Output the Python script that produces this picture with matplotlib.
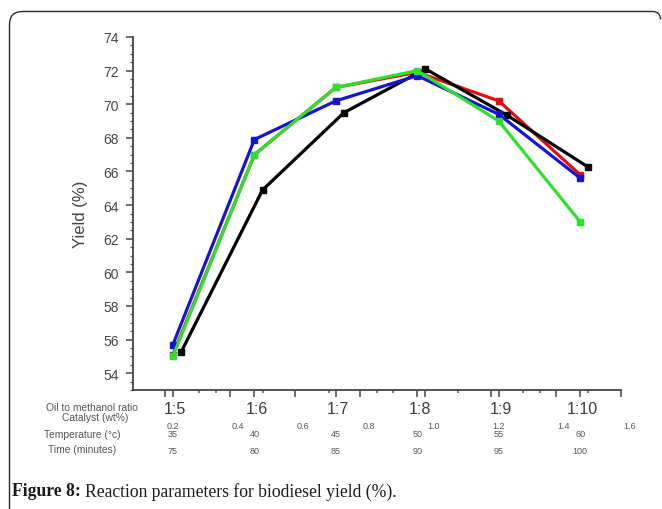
import matplotlib
matplotlib.use("Agg")
import matplotlib.pyplot as plt
import matplotlib.transforms as mtransforms
from matplotlib.path import Path
from matplotlib.patches import PathPatch

# ---------------- data ----------------
ratios = ["1:5", "1:6", "1:7", "1:8", "1:9", "1:10"]
catalyst = [0.2, 0.4, 0.6, 0.8, 1.0, 1.2, 1.4, 1.6]
temperature = [35, 40, 45, 50, 55, 60]
time_min = [75, 80, 85, 90, 95, 100]

yield_red = [55.1, 67.0, 71.0, 71.9, 70.2, 65.8]
yield_blue = [55.7, 67.9, 70.2, 71.7, 69.4, 65.6]
yield_black = [55.25, 64.9, 69.5, 72.1, 69.35, 66.25]
yield_green = [55.0, 67.0, 71.0, 72.0, 69.0, 63.0]

yticks = [54, 56, 58, 60, 62, 64, 66, 68, 70, 72, 74]

# ---------------- layout ----------------
W, H = 662, 510
fig = plt.figure(figsize=(W / 100, H / 100), dpi=100)
fig.patch.set_facecolor("white")
plt.rcParams["font.family"] = ["Liberation Sans", "DejaVu Sans"]

# rounded frame (left and top edges with rounded corners), pixel coordinates
fl, ft, fr, rad = 9.5, H - 12.5, 660.5, 13
verts = [(fl, -5), (fl, ft - rad), (fl, ft), (fl + rad, ft),
         (fr - 8, ft), (fr, ft), (fr, ft - 8)]
codes = [Path.MOVETO, Path.LINETO, Path.CURVE3, Path.CURVE3,
         Path.LINETO, Path.CURVE3, Path.CURVE3]
frame = PathPatch(Path(verts, codes), transform=mtransforms.IdentityTransform(),
                  fill=False, edgecolor="#2a2a2a", linewidth=1.0)
fig.patches.append(frame)

ax_l, ax_r, ax_t, ax_b = 133, 621, 38, 391
ax = fig.add_axes([ax_l / W, 1 - ax_b / H, (ax_r - ax_l) / W, (ax_b - ax_t) / H])

x = list(range(len(ratios)))
x_black = [v + 0.1 for v in x]

lw, ms = 2.3, 4.5
ax.plot(x, yield_red, color="#e01010", lw=lw, marker="s", ms=ms, zorder=2)
ax.plot(x_black, yield_black, color="black", lw=lw, marker="s", ms=ms, zorder=3)
ax.plot(x, yield_blue, color="#1515d0", lw=lw, marker="s", ms=ms, zorder=4)
ax.plot(x, yield_green, color="#2ee02e", lw=lw, marker="s", ms=ms, zorder=5)

ax.set_xlim(-0.49, 5.5)
ax.set_ylim(53, 74)

for s in ["top", "right"]:
    ax.spines[s].set_visible(False)
for s in ["left", "bottom"]:
    ax.spines[s].set_color("#444444")
    ax.spines[s].set_linewidth(1.3)

ax.set_yticks(yticks)
ax.set_yticklabels([str(v) for v in yticks], fontsize=10, color="#444444")
ax.set_yticks([v + d for v in range(53, 74) for d in (0.0, 0.5)], minor=True)
ax.tick_params(axis="y", which="major", direction="out", length=5, width=1.1,
               color="#444444", pad=5)
ax.tick_params(axis="y", which="minor", direction="out", length=2.5, width=0.9,
               color="#555555")

# x ticks: category ticks + catalyst-scale ticks + minor dots
cat_pos = [(c - 0.2) * 4 for c in catalyst]
major_x = x + [p - 0.1 for p in cat_pos]
ax.set_xticks(major_x)
ax.set_xticklabels([""] * len(major_x))
ax.set_xticks([0.32, 0.53, 1.11, 1.92, 2.51, 2.70, 3.50, 4.30, 4.51, 5.10], minor=True)
ax.tick_params(axis="x", which="major", direction="out", length=5, width=1.1,
               color="#444444")
ax.tick_params(axis="x", which="minor", direction="out", length=2, width=1.1,
               color="#555555")

ax.set_ylabel("Yield (%)", fontsize=12, color="#444444", labelpad=11)

tr = mtransforms.blended_transform_factory(ax.transData, fig.transFigure)
txt = "#3a3a3a"
lt = "#555555"


def fy(py):
    return 1 - py / H


for i, lab in enumerate(ratios):
    ax.text(i + 0.03, fy(409), lab, transform=tr, ha="center", va="center",
            fontsize=11.5, color=txt)
for c, p in zip(catalyst, cat_pos):
    ax.text(p, fy(427), f"{c:.1f}", transform=tr, ha="center", va="center",
            fontsize=6.5, color=lt)
for i, t in enumerate(temperature):
    ax.text(i, fy(435), str(t), transform=tr, ha="center", va="center",
            fontsize=6.5, color=lt)
for i, t in enumerate(time_min):
    ax.text(i, fy(452), str(t), transform=tr, ha="center", va="center",
            fontsize=6.5, color=lt)

row_fs = 7.4
fig.text(92 / W, fy(408), "Oil to methanol ratio", ha="center", va="center",
         fontsize=row_fs, color=lt)
fig.text(95 / W, fy(418), "Catalyst (wt%)", ha="center", va="center",
         fontsize=row_fs, color=lt)
fig.text(82 / W, fy(435), "Temperature (\u00b0c)", ha="center", va="center",
         fontsize=row_fs, color=lt)
fig.text(82 / W, fy(450), "Time (minutes)", ha="center", va="center",
         fontsize=row_fs, color=lt)

# caption
cap = fig.text(12 / W, fy(492), "Figure 8:", ha="left", va="center",
               fontsize=12.7, fontweight="bold", family="Liberation Serif",
               color="#1a1a1a")
fig.canvas.draw()
bb = cap.get_window_extent()
fig.text((bb.x1 + 4) / W, fy(492), "Reaction parameters for biodiesel yield (%).",
         ha="left", va="center", fontsize=12.7, family="Liberation Serif",
         color="#1a1a1a")

fig.savefig("out.png", dpi=100)
